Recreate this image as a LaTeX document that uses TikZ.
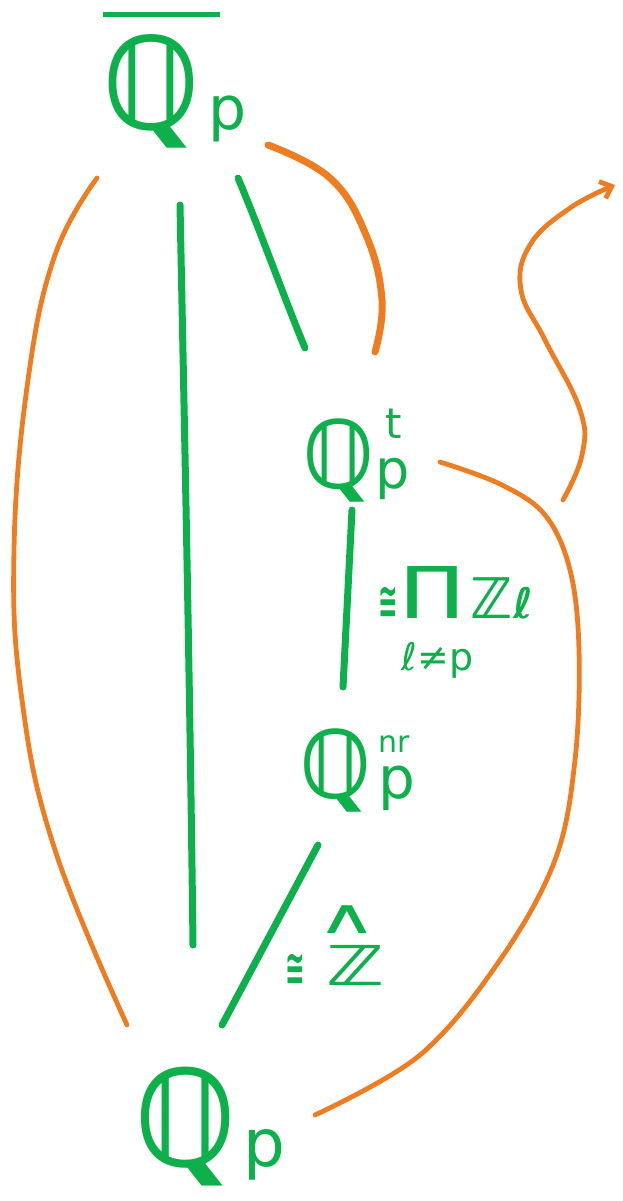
\documentclass[tikz,border=0pt]{standalone}
\usepackage{fontspec}
\usepackage{graphicx}
\usetikzlibrary{calc,arrows.meta,backgrounds}
\newfontfamily\ds{DejaVu Sans}
\definecolor{hgreen}{RGB}{13,176,75}
\definecolor{horange}{RGB}{238,125,34}
\newcommand\fs[1]{\fontsize{#1}{#1}\selectfont}
\newcommand\QQ[1]{\scalebox{0.88}[1]{\bfseries\fs{#1}ℚ}}
\tikzset{
  field/.style={text=hgreen,inner sep=0pt,font=\ds,anchor=base west},
  gline/.style={draw=hgreen,line width=7pt,line cap=round},
  oline/.style={draw=horange,line width=4.8pt,line cap=round},
  lab/.style={text=hgreen,inner sep=0pt,font=\ds,anchor=base west},
}
\begin{document}
\begin{tikzpicture}[x=1pt,y=-1pt]
\useasboundingbox (0,0) rectangle (622,1201);
% fields
\node[field] (qbar) at (103,130) {\rlap{\raisebox{113pt}{\rule{117pt}{4.5pt}}}\QQ{128}\hspace{10pt}\fs{60}p};
\node[field] (qt) at (303,488) {\QQ{94}\hspace{2pt}\fs{54}\rlap{\hspace{10pt}\raisebox{50pt}{\fs{42}t}}p};
\node[field] (qnr) at (300,798) {\QQ{94}\hspace{8pt}\fs{58}\rlap{\raisebox{46pt}{\fs{30}nr}}p};
\node[field] (qp) at (135,1166) {\QQ{134}\hspace{8pt}\fs{66}p};
% labels
\node[lab] (l1) at (378,618) {\scalebox{0.65}[1.4]{\bfseries\fs{36}≅}\hspace{4pt}\rlap{\hspace{0pt}\raisebox{-52pt}{\fs{38}ℓ≠p}}\raisebox{\depth}{\resizebox*{62pt}{52pt}{\fs{60}∏}}\hspace{7pt}{\bfseries\fs{56}ℤ\fs{42}ℓ}};
\node[lab] (l2) at (285,985) {\scalebox{0.65}[1.4]{\bfseries\fs{36}≅}\hspace{22pt}\rlap{\hspace{-10pt}\raisebox{52pt}{\scalebox{1.4}[0.8]{\fs{60}∧}}}\scalebox{1.4}[1]{\bfseries\fs{55}ℤ}};
\begin{scope}[on background layer]
% green lines
\draw[gline] ($(qbar.base west)+(77,75)$) .. controls ($(qbar.base west)+(83,370)$) and ($(qbar.base west)+(87,570)$) .. ($(qp.base west)+(58,-221)$);
\draw[gline] ($(qbar.base west)+(135,48)$) .. controls ($(qbar.base west)+(157,100)$) and ($(qbar.base west)+(182,170)$) .. ($(qt.base west)+(2,-140)$);
\draw[gline] ($(qt.base west)+(49,22)$) -- ($(qnr.base west)+(43,-111)$);
\draw[gline] ($(qnr.base west)+(18,47)$) .. controls ($(qnr.base west)+(-30,137)$) .. ($(qp.base west)+(87,-141)$);
% orange curves
\draw[oline] plot[smooth,tension=0.7] coordinates {(97,178) (55,255) (28,380) (14,550) (22,700) (55,850) (127,1025)};
\draw[oline,line width=7pt] plot[smooth,tension=0.7] coordinates {(268,145) (330,178) (366,235) (382,300) (375,352)};
\draw[oline] plot[smooth,tension=0.6] coordinates {(440,462) (500,484) (545,515) (570,570) (579,650) (575,760) (555,860) (500,960) (420,1055) (315,1115)};
\draw[oline,-{Straight Barb[length=10pt,width=18pt]}] plot[smooth,tension=0.7] coordinates {(563,500) (582,455) (580,410) (545,340) (521,290) (530,245) (570,208) (615,185)};
\end{scope}
\end{tikzpicture}
\end{document}
